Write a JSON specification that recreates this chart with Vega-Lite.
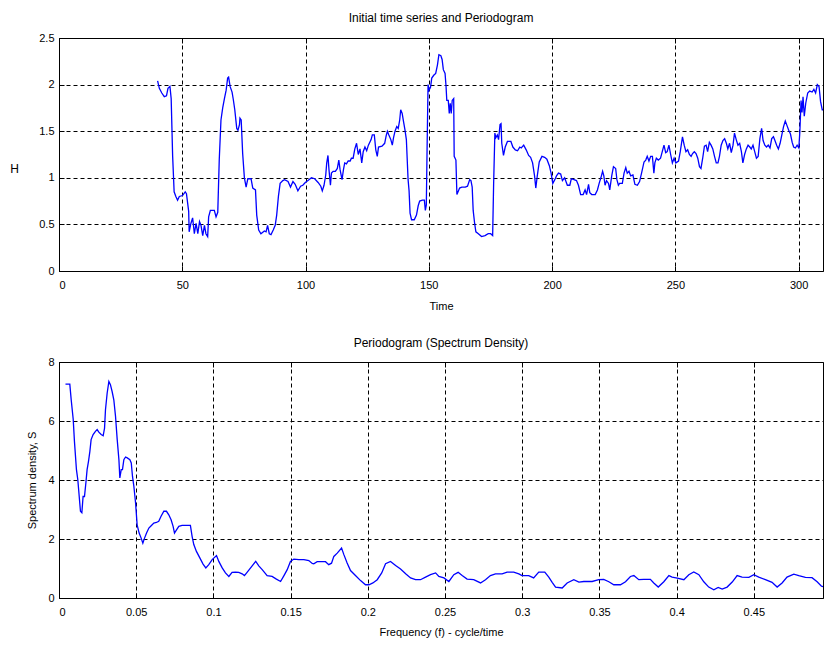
{
  "$schema": "https://vega.github.io/schema/vega-lite/v6.json",
  "background": "white",
  "padding": {"left": 9, "top": 11, "right": 0, "bottom": 0},
  "spacing": 24,
  "datasets": {
    "ts": [
      {"t":40.0,"H":2.04},{"t":40.7,"H":1.96},{"t":41.7,"H":1.91},{"t":42.7,"H":1.87},{"t":43.6,"H":1.88},{"t":44.2,"H":1.96},{"t":45.0,"H":1.98},{"t":45.5,"H":1.85},{"t":46.1,"H":1.23},{"t":46.7,"H":0.85},{"t":47.4,"H":0.80},{"t":48.1,"H":0.76},{"t":48.8,"H":0.80},{"t":50.1,"H":0.81},{"t":51.2,"H":0.85},{"t":51.7,"H":0.83},{"t":52.6,"H":0.64},{"t":52.8,"H":0.42},{"t":53.5,"H":0.51},{"t":54.2,"H":0.57},{"t":54.9,"H":0.40},{"t":55.6,"H":0.51},{"t":56.3,"H":0.40},{"t":57.0,"H":0.53},{"t":57.6,"H":0.49},{"t":58.3,"H":0.38},{"t":59.0,"H":0.49},{"t":59.6,"H":0.40},{"t":60.3,"H":0.37},{"t":60.7,"H":0.58},{"t":61.4,"H":0.65},{"t":63.0,"H":0.65},{"t":63.7,"H":0.58},{"t":64.4,"H":0.63},{"t":65.0,"H":1.19},{"t":65.7,"H":1.62},{"t":66.4,"H":1.75},{"t":67.1,"H":1.85},{"t":67.8,"H":1.94},{"t":68.4,"H":2.07},{"t":68.8,"H":2.08},{"t":69.4,"H":1.98},{"t":70.2,"H":1.92},{"t":70.7,"H":1.84},{"t":71.3,"H":1.73},{"t":72.1,"H":1.53},{"t":72.6,"H":1.51},{"t":73.2,"H":1.57},{"t":73.4,"H":1.64},{"t":73.9,"H":1.62},{"t":74.5,"H":1.26},{"t":75.2,"H":1.00},{"t":75.9,"H":0.90},{"t":76.6,"H":0.99},{"t":77.9,"H":0.99},{"t":78.6,"H":0.89},{"t":79.7,"H":0.87},{"t":80.2,"H":0.60},{"t":81.0,"H":0.44},{"t":81.9,"H":0.40},{"t":83.3,"H":0.43},{"t":84.0,"H":0.42},{"t":84.6,"H":0.49},{"t":85.3,"H":0.40},{"t":86.0,"H":0.39},{"t":86.9,"H":0.44},{"t":87.7,"H":0.49},{"t":88.3,"H":0.60},{"t":89.0,"H":0.80},{"t":89.7,"H":0.94},{"t":90.8,"H":0.97},{"t":91.5,"H":0.98},{"t":92.9,"H":0.96},{"t":93.9,"H":0.90},{"t":94.9,"H":0.96},{"t":95.8,"H":0.93},{"t":96.9,"H":0.86},{"t":98.0,"H":0.91},{"t":98.9,"H":0.92},{"t":99.9,"H":0.95},{"t":101.0,"H":0.97},{"t":102.4,"H":1.00},{"t":103.7,"H":0.99},{"t":105.1,"H":0.95},{"t":106.2,"H":0.91},{"t":106.8,"H":0.86},{"t":107.5,"H":0.92},{"t":108.2,"H":1.03},{"t":108.6,"H":1.16},{"t":109.1,"H":1.24},{"t":109.5,"H":1.09},{"t":110.1,"H":0.92},{"t":110.5,"H":1.05},{"t":111.2,"H":1.07},{"t":112.1,"H":1.07},{"t":112.9,"H":1.10},{"t":113.5,"H":1.19},{"t":114.0,"H":1.09},{"t":114.8,"H":0.98},{"t":115.4,"H":1.09},{"t":115.9,"H":1.16},{"t":116.6,"H":1.15},{"t":117.3,"H":1.18},{"t":118.1,"H":1.18},{"t":118.6,"H":1.21},{"t":119.3,"H":1.21},{"t":120.0,"H":1.31},{"t":120.7,"H":1.37},{"t":121.4,"H":1.25},{"t":122.1,"H":1.31},{"t":122.8,"H":1.16},{"t":123.4,"H":1.28},{"t":124.1,"H":1.33},{"t":124.8,"H":1.29},{"t":125.5,"H":1.35},{"t":126.6,"H":1.41},{"t":127.1,"H":1.46},{"t":127.9,"H":1.46},{"t":128.5,"H":1.30},{"t":129.1,"H":1.23},{"t":129.6,"H":1.33},{"t":131.0,"H":1.34},{"t":132.1,"H":1.37},{"t":132.7,"H":1.45},{"t":133.2,"H":1.50},{"t":133.8,"H":1.46},{"t":134.6,"H":1.41},{"t":135.2,"H":1.35},{"t":135.7,"H":1.43},{"t":136.3,"H":1.50},{"t":137.0,"H":1.55},{"t":137.6,"H":1.53},{"t":138.2,"H":1.62},{"t":138.6,"H":1.73},{"t":139.2,"H":1.69},{"t":139.7,"H":1.61},{"t":140.3,"H":1.52},{"t":140.9,"H":1.41},{"t":141.6,"H":0.98},{"t":142.0,"H":0.86},{"t":142.4,"H":0.62},{"t":143.0,"H":0.55},{"t":144.1,"H":0.55},{"t":145.0,"H":0.60},{"t":145.7,"H":0.70},{"t":146.3,"H":0.75},{"t":147.4,"H":0.76},{"t":148.2,"H":0.76},{"t":148.6,"H":0.65},{"t":149.0,"H":0.71},{"t":149.3,"H":1.30},{"t":149.7,"H":2.00},{"t":150.1,"H":1.94},{"t":150.7,"H":1.97},{"t":151.2,"H":2.07},{"t":152.0,"H":2.10},{"t":152.8,"H":2.12},{"t":153.5,"H":2.21},{"t":154.1,"H":2.32},{"t":154.9,"H":2.31},{"t":155.4,"H":2.27},{"t":155.9,"H":2.16},{"t":156.6,"H":2.12},{"t":157.0,"H":1.98},{"t":157.3,"H":1.83},{"t":157.9,"H":1.83},{"t":158.3,"H":1.69},{"t":158.7,"H":1.80},{"t":159.1,"H":1.69},{"t":159.5,"H":1.83},{"t":160.1,"H":1.85},{"t":160.3,"H":1.23},{"t":161.0,"H":1.19},{"t":161.4,"H":0.82},{"t":162.5,"H":0.89},{"t":163.4,"H":0.90},{"t":164.8,"H":0.90},{"t":165.7,"H":0.91},{"t":166.6,"H":0.98},{"t":167.1,"H":0.97},{"t":167.6,"H":0.90},{"t":168.0,"H":0.65},{"t":168.6,"H":0.51},{"t":169.1,"H":0.42},{"t":170.1,"H":0.40},{"t":171.4,"H":0.37},{"t":172.8,"H":0.38},{"t":174.1,"H":0.40},{"t":175.1,"H":0.40},{"t":175.9,"H":0.38},{"t":176.3,"H":0.94},{"t":176.8,"H":1.48},{"t":177.2,"H":1.43},{"t":177.8,"H":1.46},{"t":178.3,"H":1.41},{"t":178.9,"H":1.57},{"t":179.3,"H":1.58},{"t":179.6,"H":1.37},{"t":180.3,"H":1.24},{"t":181.0,"H":1.33},{"t":181.9,"H":1.39},{"t":183.3,"H":1.39},{"t":184.1,"H":1.33},{"t":185.1,"H":1.30},{"t":186.0,"H":1.29},{"t":186.9,"H":1.33},{"t":187.5,"H":1.32},{"t":188.5,"H":1.35},{"t":189.5,"H":1.30},{"t":190.5,"H":1.24},{"t":191.3,"H":1.22},{"t":192.1,"H":1.16},{"t":192.9,"H":1.02},{"t":193.4,"H":0.89},{"t":194.0,"H":1.02},{"t":194.8,"H":1.17},{"t":195.9,"H":1.23},{"t":197.0,"H":1.22},{"t":197.9,"H":1.20},{"t":198.9,"H":1.13},{"t":199.6,"H":1.05},{"t":200.3,"H":0.94},{"t":201.1,"H":0.98},{"t":201.8,"H":1.02},{"t":202.6,"H":1.05},{"t":203.5,"H":1.04},{"t":204.2,"H":0.97},{"t":205.1,"H":1.00},{"t":206.2,"H":0.92},{"t":207.2,"H":0.92},{"t":207.8,"H":0.99},{"t":208.9,"H":0.98},{"t":209.9,"H":0.97},{"t":210.7,"H":0.92},{"t":211.6,"H":0.82},{"t":212.6,"H":0.82},{"t":213.4,"H":0.87},{"t":214.0,"H":0.82},{"t":214.8,"H":0.93},{"t":215.3,"H":0.84},{"t":216.1,"H":0.82},{"t":217.5,"H":0.82},{"t":218.4,"H":0.87},{"t":219.1,"H":0.94},{"t":219.8,"H":1.00},{"t":220.5,"H":1.07},{"t":221.0,"H":1.02},{"t":221.5,"H":0.92},{"t":222.1,"H":0.97},{"t":222.9,"H":0.94},{"t":223.4,"H":0.87},{"t":224.2,"H":1.02},{"t":224.9,"H":1.12},{"t":225.8,"H":1.10},{"t":226.3,"H":0.98},{"t":226.9,"H":0.92},{"t":227.4,"H":0.94},{"t":228.5,"H":0.94},{"t":229.2,"H":1.05},{"t":229.9,"H":1.11},{"t":230.5,"H":1.05},{"t":231.2,"H":1.07},{"t":231.9,"H":1.02},{"t":232.8,"H":1.03},{"t":233.6,"H":0.93},{"t":234.6,"H":0.92},{"t":235.5,"H":0.96},{"t":236.3,"H":1.05},{"t":237.3,"H":1.17},{"t":238.0,"H":1.19},{"t":238.6,"H":1.23},{"t":239.3,"H":1.18},{"t":240.0,"H":1.23},{"t":240.7,"H":1.23},{"t":241.3,"H":1.05},{"t":241.7,"H":1.16},{"t":242.3,"H":1.21},{"t":243.1,"H":1.19},{"t":244.0,"H":1.21},{"t":244.7,"H":1.28},{"t":245.4,"H":1.35},{"t":246.1,"H":1.27},{"t":246.7,"H":1.28},{"t":247.4,"H":1.35},{"t":248.1,"H":1.25},{"t":248.8,"H":1.16},{"t":249.5,"H":1.21},{"t":250.2,"H":1.16},{"t":251.3,"H":1.18},{"t":252.0,"H":1.28},{"t":252.9,"H":1.44},{"t":253.6,"H":1.35},{"t":254.3,"H":1.28},{"t":255.0,"H":1.30},{"t":255.7,"H":1.25},{"t":256.4,"H":1.23},{"t":257.0,"H":1.26},{"t":257.7,"H":1.28},{"t":258.4,"H":1.26},{"t":259.1,"H":1.21},{"t":259.8,"H":1.12},{"t":260.4,"H":1.10},{"t":261.1,"H":1.21},{"t":261.8,"H":1.34},{"t":262.5,"H":1.35},{"t":263.1,"H":1.28},{"t":263.8,"H":1.38},{"t":264.5,"H":1.35},{"t":265.2,"H":1.31},{"t":265.9,"H":1.23},{"t":266.6,"H":1.16},{"t":267.3,"H":1.16},{"t":267.9,"H":1.23},{"t":268.6,"H":1.35},{"t":269.3,"H":1.40},{"t":270.0,"H":1.42},{"t":270.7,"H":1.37},{"t":271.3,"H":1.31},{"t":272.0,"H":1.37},{"t":272.7,"H":1.27},{"t":273.4,"H":1.35},{"t":274.0,"H":1.48},{"t":274.7,"H":1.41},{"t":275.4,"H":1.35},{"t":276.1,"H":1.37},{"t":276.8,"H":1.28},{"t":277.4,"H":1.16},{"t":278.1,"H":1.25},{"t":278.8,"H":1.31},{"t":279.5,"H":1.35},{"t":280.2,"H":1.33},{"t":280.8,"H":1.31},{"t":281.5,"H":1.35},{"t":282.2,"H":1.28},{"t":282.9,"H":1.21},{"t":283.6,"H":1.23},{"t":284.3,"H":1.42},{"t":285.0,"H":1.53},{"t":285.6,"H":1.40},{"t":286.3,"H":1.35},{"t":287.0,"H":1.33},{"t":287.7,"H":1.35},{"t":288.4,"H":1.32},{"t":289.1,"H":1.42},{"t":289.8,"H":1.44},{"t":290.4,"H":1.40},{"t":291.1,"H":1.35},{"t":291.8,"H":1.31},{"t":292.5,"H":1.37},{"t":293.2,"H":1.46},{"t":293.9,"H":1.55},{"t":294.6,"H":1.61},{"t":295.3,"H":1.56},{"t":296.0,"H":1.51},{"t":296.7,"H":1.47},{"t":297.4,"H":1.38},{"t":298.0,"H":1.33},{"t":298.7,"H":1.32},{"t":299.4,"H":1.35},{"t":300.1,"H":1.32},{"t":300.5,"H":1.49},{"t":301.0,"H":1.83},{"t":301.4,"H":1.70},{"t":301.8,"H":1.87},{"t":302.3,"H":1.66},{"t":302.9,"H":1.80},{"t":303.7,"H":1.91},{"t":304.5,"H":1.93},{"t":305.5,"H":1.92},{"t":306.2,"H":1.95},{"t":306.9,"H":1.91},{"t":307.6,"H":2.00},{"t":308.3,"H":1.98},{"t":308.9,"H":1.82},{"t":309.6,"H":1.73},{"t":310.6,"H":1.73}
    ],
    "pg": [
      {"f":0.0042,"S":7.25},{"f":0.0070,"S":7.25},{"f":0.0079,"S":6.72},{"f":0.0092,"S":6.06},{"f":0.0100,"S":5.31},{"f":0.0113,"S":4.35},{"f":0.0122,"S":4.0},{"f":0.0130,"S":3.50},{"f":0.0139,"S":2.94},{"f":0.0148,"S":2.89},{"f":0.0156,"S":3.44},{"f":0.0165,"S":3.44},{"f":0.0174,"S":3.90},{"f":0.0182,"S":4.35},{"f":0.0191,"S":4.63},{"f":0.0200,"S":4.97},{"f":0.0208,"S":5.37},{"f":0.0221,"S":5.54},{"f":0.0236,"S":5.65},{"f":0.0247,"S":5.71},{"f":0.0258,"S":5.62},{"f":0.0273,"S":5.54},{"f":0.0286,"S":5.50},{"f":0.0295,"S":5.76},{"f":0.0301,"S":6.38},{"f":0.0312,"S":6.95},{"f":0.0323,"S":7.34},{"f":0.0333,"S":7.23},{"f":0.0344,"S":7.00},{"f":0.0355,"S":6.72},{"f":0.0366,"S":6.16},{"f":0.0377,"S":5.37},{"f":0.0388,"S":4.69},{"f":0.0394,"S":4.07},{"f":0.0403,"S":4.35},{"f":0.0411,"S":4.35},{"f":0.0420,"S":4.69},{"f":0.0431,"S":4.78},{"f":0.0442,"S":4.75},{"f":0.0459,"S":4.69},{"f":0.0468,"S":4.58},{"f":0.0476,"S":4.12},{"f":0.0485,"S":3.78},{"f":0.0496,"S":3.22},{"f":0.0506,"S":2.48},{"f":0.0519,"S":2.20},{"f":0.0532,"S":2.03},{"f":0.0543,"S":1.86},{"f":0.0554,"S":2.03},{"f":0.0567,"S":2.20},{"f":0.0582,"S":2.37},{"f":0.0597,"S":2.45},{"f":0.0614,"S":2.54},{"f":0.0631,"S":2.56},{"f":0.0646,"S":2.60},{"f":0.0661,"S":2.77},{"f":0.0679,"S":2.94},{"f":0.0696,"S":2.94},{"f":0.0711,"S":2.82},{"f":0.0726,"S":2.65},{"f":0.0739,"S":2.43},{"f":0.0748,"S":2.20},{"f":0.0761,"S":2.31},{"f":0.0776,"S":2.43},{"f":0.0797,"S":2.46},{"f":0.0819,"S":2.46},{"f":0.0851,"S":2.46},{"f":0.0862,"S":2.09},{"f":0.0873,"S":1.81},{"f":0.0890,"S":1.58},{"f":0.0912,"S":1.36},{"f":0.0933,"S":1.15},{"f":0.0951,"S":1.02},{"f":0.0970,"S":1.13},{"f":0.0992,"S":1.30},{"f":0.1020,"S":1.44},{"f":0.1035,"S":1.24},{"f":0.1057,"S":1.02},{"f":0.1078,"S":0.85},{"f":0.1100,"S":0.73},{"f":0.1121,"S":0.87},{"f":0.1143,"S":0.88},{"f":0.1164,"S":0.87},{"f":0.1186,"S":0.82},{"f":0.1201,"S":0.76},{"f":0.1218,"S":0.87},{"f":0.1251,"S":1.09},{"f":0.1274,"S":1.24},{"f":0.1294,"S":1.09},{"f":0.1316,"S":0.96},{"f":0.1348,"S":0.76},{"f":0.1380,"S":0.73},{"f":0.1408,"S":0.64},{"f":0.1435,"S":0.56},{"f":0.1457,"S":0.76},{"f":0.1478,"S":0.96},{"f":0.1499,"S":1.24},{"f":0.1521,"S":1.32},{"f":0.1553,"S":1.30},{"f":0.1586,"S":1.30},{"f":0.1618,"S":1.27},{"f":0.1640,"S":1.17},{"f":0.1650,"S":1.16},{"f":0.1672,"S":1.23},{"f":0.1726,"S":1.23},{"f":0.1747,"S":1.13},{"f":0.1765,"S":1.18},{"f":0.1780,"S":1.41},{"f":0.1802,"S":1.52},{"f":0.1830,"S":1.69},{"f":0.1845,"S":1.47},{"f":0.1866,"S":1.19},{"f":0.1888,"S":0.93},{"f":0.1920,"S":0.76},{"f":0.1953,"S":0.59},{"f":0.1985,"S":0.45},{"f":0.2007,"S":0.45},{"f":0.2033,"S":0.51},{"f":0.2061,"S":0.62},{"f":0.2090,"S":0.85},{"f":0.2115,"S":1.16},{"f":0.2147,"S":1.24},{"f":0.2180,"S":1.10},{"f":0.2212,"S":0.98},{"f":0.2245,"S":0.82},{"f":0.2277,"S":0.68},{"f":0.2309,"S":0.62},{"f":0.2341,"S":0.62},{"f":0.2374,"S":0.71},{"f":0.2406,"S":0.79},{"f":0.2439,"S":0.85},{"f":0.2460,"S":0.73},{"f":0.2493,"S":0.68},{"f":0.2525,"S":0.56},{"f":0.2557,"S":0.79},{"f":0.2585,"S":0.87},{"f":0.2611,"S":0.76},{"f":0.2643,"S":0.64},{"f":0.2686,"S":0.62},{"f":0.2730,"S":0.51},{"f":0.2762,"S":0.62},{"f":0.2794,"S":0.76},{"f":0.2827,"S":0.82},{"f":0.2870,"S":0.82},{"f":0.2902,"S":0.88},{"f":0.2945,"S":0.88},{"f":0.2978,"S":0.82},{"f":0.2999,"S":0.76},{"f":0.3042,"S":0.76},{"f":0.3074,"S":0.68},{"f":0.3107,"S":0.88},{"f":0.3146,"S":0.88},{"f":0.3172,"S":0.71},{"f":0.3194,"S":0.53},{"f":0.3216,"S":0.37},{"f":0.3259,"S":0.34},{"f":0.3291,"S":0.51},{"f":0.3334,"S":0.62},{"f":0.3367,"S":0.54},{"f":0.3399,"S":0.56},{"f":0.3453,"S":0.56},{"f":0.3496,"S":0.62},{"f":0.3528,"S":0.63},{"f":0.3561,"S":0.55},{"f":0.3593,"S":0.45},{"f":0.3636,"S":0.45},{"f":0.3669,"S":0.55},{"f":0.3701,"S":0.73},{"f":0.3723,"S":0.76},{"f":0.3755,"S":0.62},{"f":0.3787,"S":0.63},{"f":0.3830,"S":0.63},{"f":0.3852,"S":0.51},{"f":0.3881,"S":0.37},{"f":0.3917,"S":0.55},{"f":0.3950,"S":0.76},{"f":0.3971,"S":0.71},{"f":0.4004,"S":0.67},{"f":0.4047,"S":0.62},{"f":0.4079,"S":0.79},{"f":0.4111,"S":0.88},{"f":0.4144,"S":0.79},{"f":0.4176,"S":0.55},{"f":0.4208,"S":0.37},{"f":0.4241,"S":0.28},{"f":0.4269,"S":0.36},{"f":0.4295,"S":0.30},{"f":0.4327,"S":0.37},{"f":0.4360,"S":0.54},{"f":0.4392,"S":0.76},{"f":0.4424,"S":0.71},{"f":0.4468,"S":0.70},{"f":0.4500,"S":0.79},{"f":0.4532,"S":0.71},{"f":0.4575,"S":0.62},{"f":0.4618,"S":0.53},{"f":0.4651,"S":0.37},{"f":0.4683,"S":0.51},{"f":0.4715,"S":0.71},{"f":0.4759,"S":0.81},{"f":0.4791,"S":0.76},{"f":0.4834,"S":0.70},{"f":0.4877,"S":0.69},{"f":0.4910,"S":0.55},{"f":0.4938,"S":0.40},{"f":0.5,"S":0.30}
    ]
  },
  "vconcat": [
    {
      "width": 764,
      "height": 233,
      "title": {"text": "Initial time series  and Periodogram", "offset": 7},
      "data": {"name": "ts"},
      "layer": [
        {
          "mark": {"type": "line", "color": "#0000ff", "strokeWidth": 1.3, "clip": true},
          "encoding": {
            "x": {"field": "t", "type": "quantitative", "scale": {"domain": [0, 309.9], "nice": false, "zero": false},
                  "axis": {"values": [0, 50, 100, 150, 200, 250, 300], "title": "Time", "titlePadding": 10, "labelPadding": 13}},
            "y": {"field": "H", "type": "quantitative", "scale": {"domain": [0, 2.5], "nice": false},
                  "axis": {"values": [0, 0.5, 1, 1.5, 2, 2.5], "format": "~g", "title": "H", "titleAngle": 0, "labelPadding": 10,
                           "titleX": -45, "titleY": 130, "titleAlign": "center", "titleBaseline": "middle", "titleFontSize": 12}}
          }
        },
        {
          "mark": {"type": "line", "opacity": 0, "clip": true},
          "encoding": {
            "x": {"field": "t", "type": "quantitative",
                  "axis": {"orient": "top", "values": [0, 50, 100, 150, 200, 250, 300], "labels": false, "grid": false, "title": null}},
            "y": {"field": "H", "type": "quantitative", "axis": null}
          }
        }
      ],
      "resolve": {"axis": {"x": "independent", "y": "independent"}}
    },
    {
      "width": 764,
      "height": 236,
      "title": {"text": "Periodogram (Spectrum Density)", "offset": 6},
      "data": {"name": "pg"},
      "layer": [
        {
          "mark": {"type": "line", "color": "#0000ff", "strokeWidth": 1.3, "clip": true},
          "encoding": {
            "x": {"field": "f", "type": "quantitative", "scale": {"domain": [0, 0.4948], "nice": false, "zero": false},
                  "axis": {"values": [0, 0.05, 0.1, 0.15, 0.2, 0.25, 0.3, 0.35, 0.4, 0.45], "format": "~g", "title": "Frequency (f) - cycle/time", "titlePadding": 9, "labelPadding": 13}},
            "y": {"field": "S", "type": "quantitative", "scale": {"domain": [0, 8], "nice": false},
                  "axis": {"values": [0, 2, 4, 6, 8], "title": "Spectrum density, S", "labelPadding": 10,
                           "titleX": -27, "titleY": 118, "titleAngle": -90, "titleAlign": "center", "titleBaseline": "middle"}}
          }
        },
        {
          "mark": {"type": "line", "opacity": 0, "clip": true},
          "encoding": {
            "x": {"field": "f", "type": "quantitative",
                  "axis": {"orient": "top", "values": [0, 0.05, 0.1, 0.15, 0.2, 0.25, 0.3, 0.35, 0.4, 0.45], "labels": false, "grid": false, "title": null}},
            "y": {"field": "S", "type": "quantitative", "axis": null}
          }
        }
      ],
      "resolve": {"axis": {"x": "independent", "y": "independent"}}
    }
  ],
  "config": {
    "font": "Liberation Sans",
    "view": {"stroke": "black", "strokeWidth": 1},
    "axis": {
      "grid": true, "gridColor": "black", "gridDash": [4, 3], "gridOpacity": 1, "gridWidth": 1,
      "domain": false, "ticks": true, "tickColor": "black", "tickSize": -5, "tickWidth": 1,
      "labelColor": "black", "labelFontSize": 11,
      "titleColor": "black", "titleFontSize": 11, "titleFontWeight": "normal"
    },
    "title": {"fontSize": 12, "fontWeight": "normal", "color": "black", "anchor": "middle"}
  }
}
